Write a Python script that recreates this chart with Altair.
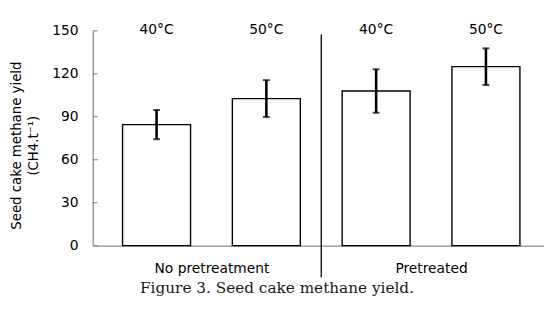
import altair as alt
import pandas as pd

# ---- data ----
treatments = ["No pretreatment", "No pretreatment", "Pretreated", "Pretreated"]
temperatures = ["40°C", "50°C", "40°C", "50°C"]
yields = [84.5, 102.7, 108.0, 125.0]
errors = [10.2, 12.9, 15.2, 12.8]
groups = ["No pretreatment", "Pretreated"]
y_ticks = [0, 30, 60, 90, 120, 150]

positions = list(range(1, len(yields) + 1))
df = pd.DataFrame({
    "pos": positions,
    "treatment": treatments,
    "temp": temperatures,
    "yield": yields,
    "lo": [v - e for v, e in zip(yields, errors)],
    "hi": [v + e for v, e in zip(yields, errors)],
})
group_pos = [sum(p for p, t in zip(positions, treatments) if t == g) /
             treatments.count(g) for g in groups]
divider = pd.DataFrame({"x": [2.5], "y": [147.4], "y2": [-22]})
ticks_df = pd.DataFrame({"v": y_ticks})

label_expr = " : ".join(
    f"datum.value == {p} ? '{g}'" for p, g in zip(group_pos, groups)
) + " : ''"

FONT = "DejaVu Sans"
xscale = alt.Scale(domain=[0.4186, 4.529], nice=False, zero=False, padding=0)
yscale = alt.Scale(domain=[0, 150], nice=False, padding=0)

x_enc = alt.X("pos:Q", scale=xscale,
              axis=alt.Axis(values=group_pos, labelExpr=label_expr, title=None,
                            grid=False, ticks=False, domainColor="#8c8c8c",
                            domainWidth=1.3, labelFont=FONT, labelFontSize=14,
                            labelColor="black", labelPadding=16))
y_enc = alt.Y("yield:Q", scale=yscale,
              axis=alt.Axis(values=y_ticks, grid=False, ticks=False,
                            domainColor="#8c8c8c", domainWidth=1.3,
                            labelFont=FONT, labelFontSize=14, labelColor="black",
                            labelPadding=15,
                            title=["Seed cake methane yield", "(CH4.t⁻¹)"],
                            titleFont=FONT, titleFontSize=13.5,
                            titleFontWeight="normal", titleColor="black",
                            titleLineHeight=18, titlePadding=11, titleY=116))

bars = alt.Chart(df).mark_bar(size=69, fill="white", stroke="black",
                              strokeWidth=1.4).encode(x=x_enc, y=y_enc)

err = alt.Chart(df).mark_rule(color="black", strokeWidth=2.6).encode(
    x="pos:Q", y="lo:Q", y2="hi:Q")
cap_hi = alt.Chart(df).mark_tick(color="black", thickness=2, size=7,
                                 orient="horizontal").encode(x="pos:Q", y="hi:Q")
cap_lo = alt.Chart(df).mark_tick(color="black", thickness=2, size=7,
                                 orient="horizontal").encode(x="pos:Q", y="lo:Q")

temps = alt.Chart(df).mark_text(font=FONT, fontSize=14, color="black",
                                baseline="middle", dy=-1).encode(
    x="pos:Q", y=alt.datum(150), text="temp:N")

div = alt.Chart(divider).mark_rule(color="black", strokeWidth=1.3).encode(
    x="x:Q", y="y:Q", y2="y2:Q")

inner_ticks = alt.Chart(ticks_df).mark_rule(color="#8c8c8c", strokeWidth=1.2).encode(
    y="v:Q", x=alt.value(0), x2=alt.value(5))

chart = alt.layer(bars, err, cap_hi, cap_lo, temps, div, inner_ticks).properties(
    width=458, height=218,
    autosize=alt.AutoSizeParams(type="none"),
    padding={"left": 86, "top": 21, "right": 0, "bottom": 56},
    title=alt.TitleParams("Figure 3. Seed cake methane yield.", orient="bottom",
                          anchor="start", frame="group", dx=48,
                          font="DejaVu Serif", fontSize=15.5, fontWeight="normal",
                          color="#1a1a1a", offset=3),
).configure_view(stroke=None)

chart.save("out.html", embed_options={"renderer": "svg", "actions": False})
